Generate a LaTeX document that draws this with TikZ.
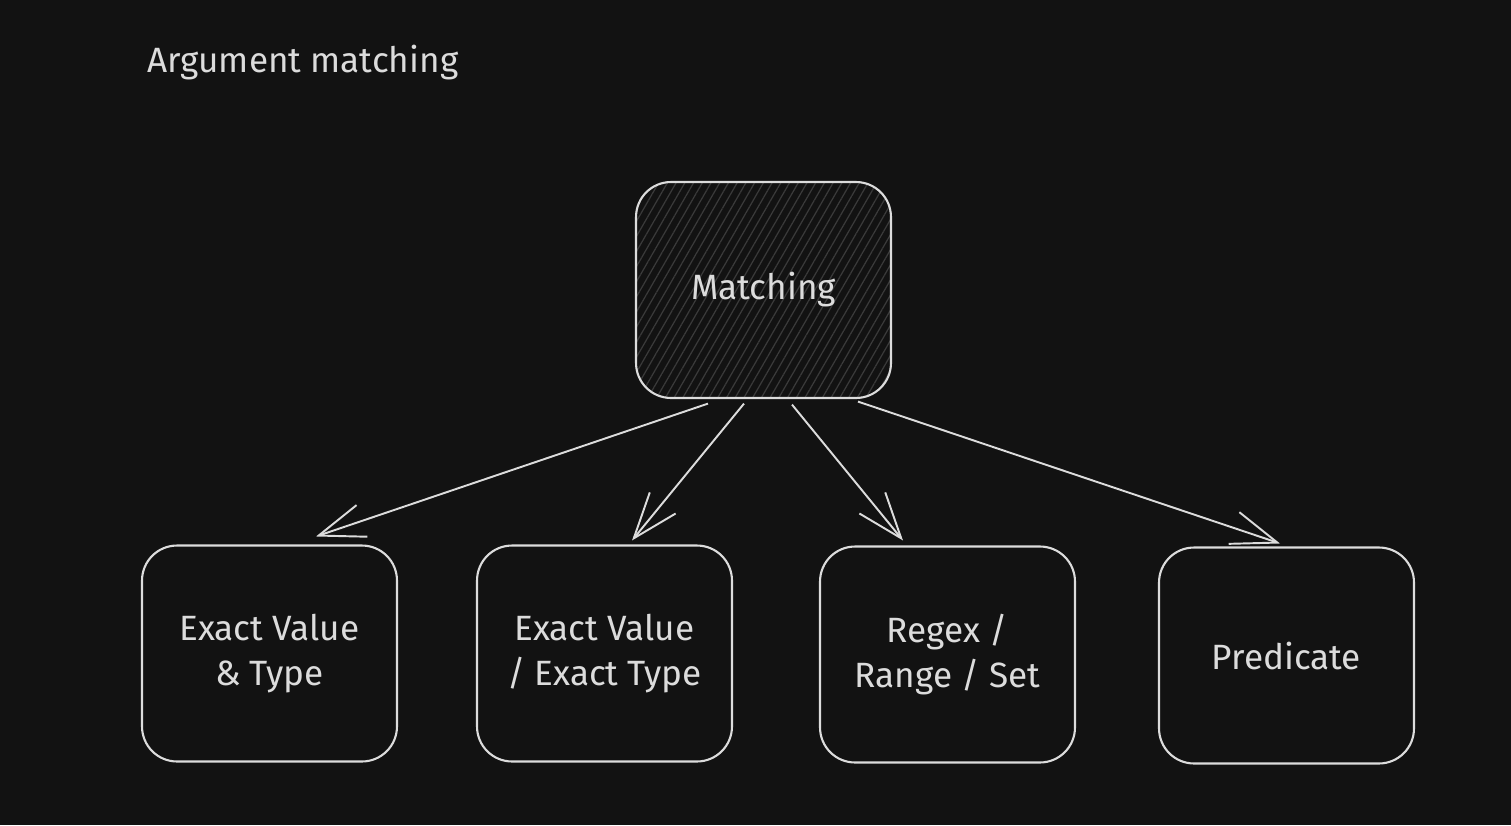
\documentclass[tikz,border=0pt]{standalone}
\usepackage{fontspec}
\setmainfont{Fira Sans}
\usetikzlibrary{calc,arrows.meta,patterns.meta}
\definecolor{bg}{HTML}{121212}
\definecolor{ink}{HTML}{DCDCDC}
\definecolor{hatch}{HTML}{3A3A3A}
\tikzset{
  box/.style={draw=ink, line width=1.2pt, rounded corners=0.7cm,
    minimum width=5.1cm, minimum height=4.32cm, align=center,
    text=ink, font=\fontsize{20}{26}\selectfont, inner sep=0pt},
  hatched/.style={pattern={Lines[angle=60,distance=4.3pt,line width=0.7pt]}, pattern color=hatch},
  conn/.style={draw=ink, line width=1.1pt,
    -{Straight Barb[length=26pt,width=19pt,line width=1.1pt]}}
}
\begin{document}
\begin{tikzpicture}[x=0.02cm,y=-0.02cm]
\fill[bg] (0,0) rectangle (1511,825);
\useasboundingbox (0,0) rectangle (1511,825);
\node[text=ink, font=\fontsize{20}{26}\selectfont, anchor=west, inner sep=0pt] (title) at (147,63) {Argument matching};
\node[box, hatched] (m) at (763.5,290) {Matching};
\node[box] (a) at (269.5,653.5) {Exact Value\\ \& Type};
\node[box] (b) at (604.5,653.5) {Exact Value\\ / Exact Type};
\node[box] (c) at (947.5,654.5) {Regex /\\ Range / Set};
\node[box] (d) at (1286.5,655.5) {Predicate};
\draw[conn] ($(m.south)+(-55.5,5)$) -- ($(a.north)+(46.5,-8)$);
\draw[conn] ($(m.south)+(-19.5,5)$) -- ($(b.north)+(27.5,-4)$);
\draw[conn] ($(m.south)+(28.5,6)$) -- ($(c.north)+(-44.5,-5)$);
\draw[conn] ($(m.south)+(94.5,3)$) -- ($(d.north)+(-6.5,-3)$);
\end{tikzpicture}
\end{document}
